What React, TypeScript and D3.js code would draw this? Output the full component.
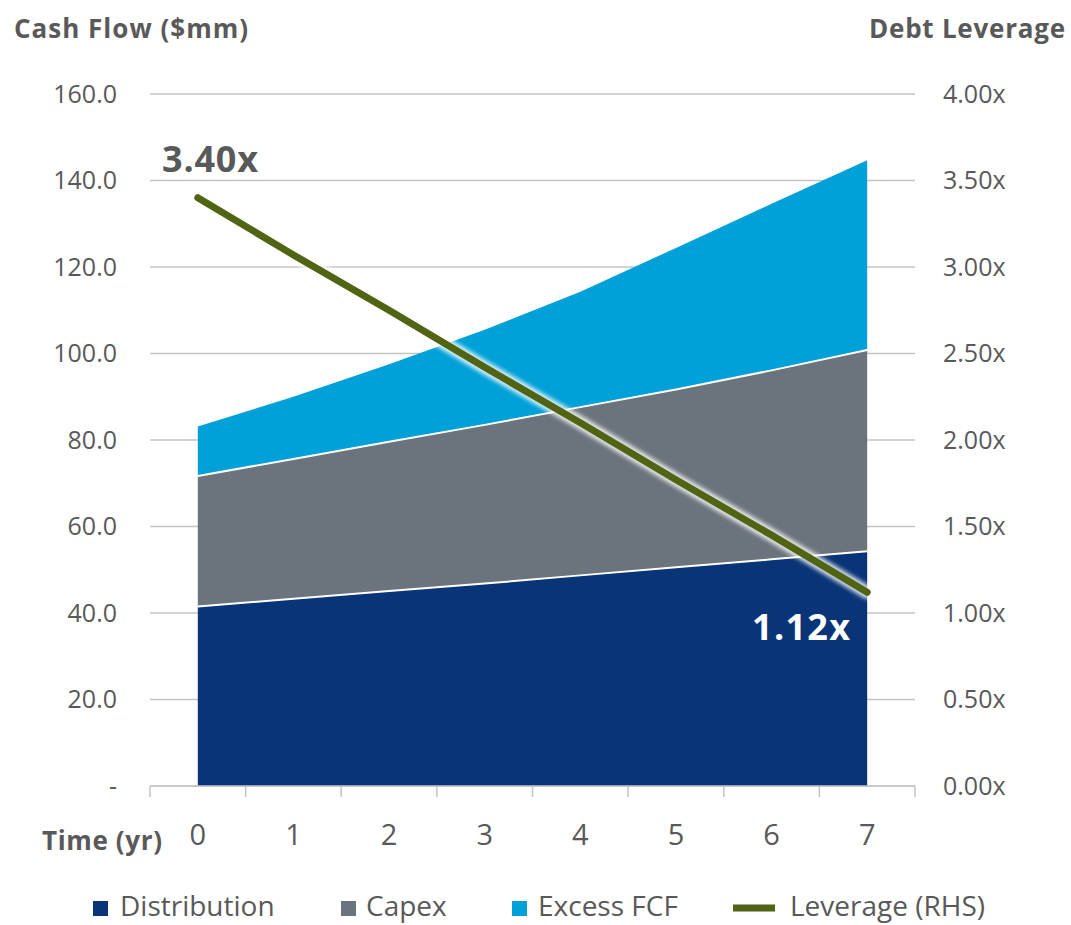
import React from "react";
import * as d3 from "d3";

const years = ["0", "1", "2", "3", "4", "5", "6", "7"];
const distribution = [41.5, 43.3, 45.1, 46.8, 48.7, 50.6, 52.4, 54.3];
const capex = [30.2, 32.3, 34.5, 36.7, 38.9, 41.1, 43.7, 46.5];
const excessFCF = [11.4, 14.4, 17.9, 22.0, 26.7, 32.7, 38.5, 43.9];
const leverage = [3.4, 3.07, 2.75, 2.42, 2.1, 1.77, 1.45, 1.12];
const leftTicks = [0, 20, 40, 60, 80, 100, 120, 140, 160];
const rightTicks = [0, 0.5, 1, 1.5, 2, 2.5, 3, 3.5, 4];
const seriesNames = ["Distribution", "Capex", "Excess FCF"];
const seriesColors = ["#0a3478", "#6b737c", "#00a0d8"];
const lineColor = "#506414";
const textColor = "#595959";
const FONT = "'Open Sans', sans-serif";

export default function App() {
  const W = 1071, H = 925;
  const x = d3.scaleBand<string>().domain(years).range([150, 915]);
  const cx = (i: number) => (x(years[i]) as number) + x.bandwidth() / 2;
  const yL = d3.scaleLinear().domain([0, 160]).range([786, 94]);
  const yR = d3.scaleLinear().domain([0, 4]).range([786, 94]);

  const rows = years.map((_, i) => ({
    i,
    Distribution: distribution[i],
    Capex: capex[i],
    "Excess FCF": excessFCF[i],
  }));
  const stacked = d3.stack<any>().keys(seriesNames)(rows);
  const area = d3
    .area<any>()
    .x((d) => cx(d.data.i))
    .y0((d) => yL(d[0]))
    .y1((d) => yL(d[1]));
  const topLine = d3
    .line<any>()
    .x((d) => cx(d.data.i))
    .y((d) => yL(d[1]));
  const levLine = d3
    .line<number>()
    .x((_, i) => cx(i))
    .y((d) => yR(d));

  const boundaries = d3.range(years.length + 1).map((k) => 150 + k * x.bandwidth());

  const legendItems = [
    { label: "Distribution", x: 93, tx: 120, color: seriesColors[0], type: "sq" },
    { label: "Capex", x: 341, tx: 366, color: seriesColors[1], type: "sq" },
    { label: "Excess FCF", x: 512, tx: 538, color: seriesColors[2], type: "sq" },
    { label: "Leverage (RHS)", x: 733, tx: 790, color: lineColor, type: "line" },
  ];

  return (
    <svg
      width={W}
      height={H}
      style={{ position: "absolute", left: 0, top: 0, background: "#fff" }}
      fontFamily={FONT}
    >
      <defs>
        <filter id="glow" x="-10%" y="-10%" width="120%" height="120%">
          <feGaussianBlur stdDeviation="2.2" />
        </filter>
      </defs>
      {/* gridlines */}
      {leftTicks.map((t) => (
        <line
          key={"g" + t}
          x1={150}
          x2={915}
          y1={yL(t)}
          y2={yL(t)}
          stroke="#c4c4c4"
          strokeWidth={1.5}
        />
      ))}
      {/* areas */}
      {stacked.map((s, k) => (
        <path key={"a" + k} d={area(s) as string} fill={seriesColors[k]} />
      ))}
      {stacked.slice(0, 2).map((s, k) => (
        <path
          key={"t" + k}
          d={topLine(s) as string}
          fill="none"
          stroke="#fff"
          strokeWidth={2}
        />
      ))}
      {/* x axis */}
      <line x1={150} x2={915} y1={786} y2={786} stroke="#c4c4c4" strokeWidth={1.5} />
      {boundaries.map((b, k) => (
        <line key={"tk" + k} x1={b} x2={b} y1={786} y2={797} stroke="#c4c4c4" strokeWidth={1.5} />
      ))}
      {/* leverage line */}
      <path
        d={levLine(leverage) as string}
        fill="none"
        stroke="#ffffff"
        strokeOpacity={0.85}
        strokeWidth={13}
        strokeLinecap="round"
        filter="url(#glow)"
      />
      <path
        d={levLine(leverage) as string}
        fill="none"
        stroke={lineColor}
        strokeWidth={7}
        strokeLinecap="round"
      />
      {/* left ticks */}
      {leftTicks.map((t) => (
        <text
          key={"l" + t}
          x={117}
          y={yL(t)}
          dy="0.35em"
          textAnchor="end"
          fontSize={25}
          fill={textColor}
        >
          {t === 0 ? "-" : t.toFixed(1)}
        </text>
      ))}
      {/* right ticks */}
      {rightTicks.map((t) => (
        <text
          key={"r" + t}
          x={943}
          y={yR(t)}
          dy="0.35em"
          textAnchor="start"
          fontSize={25}
          fill={textColor}
        >
          {t.toFixed(2) + "x"}
        </text>
      ))}
      {/* x labels */}
      {years.map((yv, i) => (
        <text
          key={"x" + yv}
          x={cx(i)}
          y={845}
          textAnchor="middle"
          fontSize={29}
          fill={textColor}
        >
          {yv}
        </text>
      ))}
      <text x={42} y={850} fontSize={26} fontWeight="bold" fill={textColor} textLength={120}>
        Time (yr)
      </text>
      {/* titles */}
      <text x={14} y={38} fontSize={26} fontWeight="bold" fill={textColor} textLength={234}>
        Cash Flow ($mm)
      </text>
      <text x={869} y={38} fontSize={26} fontWeight="bold" fill={textColor} textLength={196}>
        Debt Leverage
      </text>
      {/* data labels */}
      <text x={162} y={172} fontSize={36} fontWeight="bold" fill={textColor} textLength={96}>
        {leverage[0].toFixed(2) + "x"}
      </text>
      <text x={752} y={640} fontSize={36} fontWeight="bold" fill="#fff" textLength={98}>
        {leverage[leverage.length - 1].toFixed(2) + "x"}
      </text>
      {/* legend */}
      {legendItems.map((it) => (
        <g key={it.label}>
          {it.type === "sq" ? (
            <rect x={it.x} y={901} width={15} height={15} fill={it.color} />
          ) : (
            <line x1={it.x} x2={it.x + 42} y1={908} y2={908} stroke={it.color} strokeWidth={7} />
          )}
          <text x={it.tx} y={916} fontSize={28} fill={textColor}>
            {it.label}
          </text>
        </g>
      ))}
    </svg>
  );
}
